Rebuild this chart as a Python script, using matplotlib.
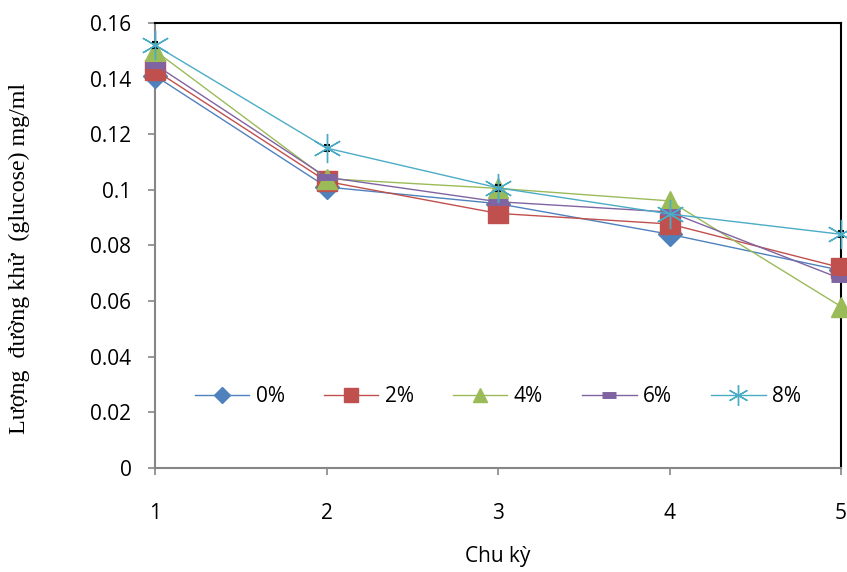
import numpy as np
import matplotlib
matplotlib.use("Agg")
import matplotlib.pyplot as plt

# cycles and reducing sugar content (mg/ml) per concentration
cycles = [1, 2, 3, 4, 5]
labels = ["0%", "2%", "4%", "6%", "8%"]
s0 = [0.141, 0.101, 0.095, 0.084, 0.071]
s2 = [0.143, 0.103, 0.0915, 0.0877, 0.072]
s4 = [0.150, 0.104, 0.1005, 0.096, 0.058]
s6 = [0.145, 0.1045, 0.0957, 0.092, 0.068]
s8 = [0.152, 0.115, 0.1007, 0.0913, 0.084]
err8 = [0.001, 0.001, 0.001, 0.0, 0.001]

yticks = [0, 0.02, 0.04, 0.06, 0.08, 0.1, 0.12, 0.14, 0.16]
ytick_labels = ["0", "0.02", "0.04", "0.06", "0.08", "0.1", "0.12", "0.14", "0.16"]

colors = ["#4F81BD", "#C0504D", "#9BBB59", "#8064A2", "#4BACC6"]
markers = ["D", "s", "^", "_", (6, 2, 0)]
msizes = [12, 15, 15, 15, 21]

plt.rcParams['font.family'] = ['Open Sans', 'DejaVu Sans']

fig = plt.figure(figsize=(8.47, 5.72), dpi=100)
ax = fig.add_axes([0.183, 0.182, 0.810, 0.778])

# small error bars on the 8% series (mostly hidden behind the star)
ax.errorbar(cycles, s8, yerr=err8, fmt="none", ecolor="black", elinewidth=1,
            capsize=2.5, capthick=1.5, zorder=8, clip_on=False)

series = [s0, s2, s4, s6, s8]
for i, s in enumerate(series):
    mew = 1.0
    if i == 3:
        mew = 5
    ax.plot(cycles, s, color=colors[i], lw=1.0, marker=markers[i], markersize=msizes[i],
            markerfacecolor=colors[i], markeredgecolor=colors[i], markeredgewidth=mew,
            label=labels[i], clip_on=False, zorder=3 + 2 * i)

ax.set_xlim(1, 5)
ax.set_ylim(0, 0.16)
ax.set_xticks(cycles)
ax.set_yticks(yticks)
ax.set_yticklabels(ytick_labels)
ax.tick_params(axis="both", labelsize=15, color="#868686", length=5, width=1.2)
ax.tick_params(axis="x", pad=20)
ax.tick_params(axis="y", pad=12)

for side in ["left", "bottom"]:
    ax.spines[side].set_color("#868686")
    ax.spines[side].set_linewidth(1.5)
for side in ["top", "right"]:
    ax.spines[side].set_color("black")
    ax.spines[side].set_linewidth(1.5)

ax.set_xlabel("Chu kỳ", fontsize=15)
ax.xaxis.set_label_coords(0.5, -0.175)
ax.set_ylabel("Lượng  đường khử  (glucose) mg/ml", fontsize=17.3,
              family=["Liberation Serif", "DejaVu Serif"])
ax.yaxis.set_label_coords(-0.182, 0.47)

ax.legend(loc="center", bbox_to_anchor=(0.5, 0.16), ncol=5, frameon=False,
          fontsize=15, handlelength=2.6, columnspacing=1.9, handletextpad=0.3,
          markerscale=0.7)

fig.savefig("out.png", dpi=100)
